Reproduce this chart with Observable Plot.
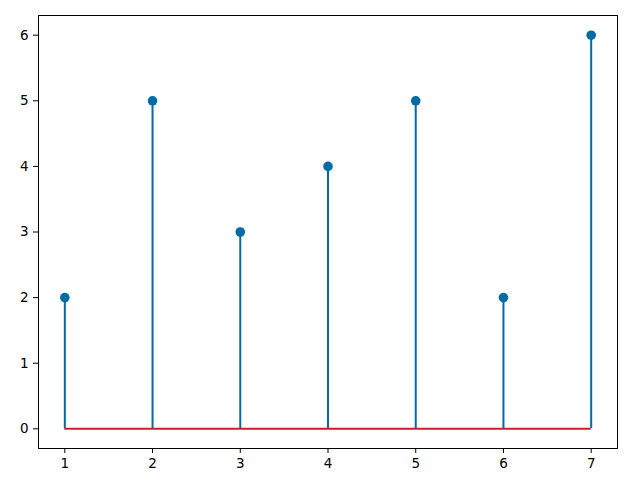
<!DOCTYPE html>
<html>
<head>
<meta charset="utf-8">
<script src="https://cdn.jsdelivr.net/npm/d3@7"></script>
<script src="https://cdn.jsdelivr.net/npm/@observablehq/plot@0.6"></script>
<style>
  html, body { margin: 0; padding: 0; background: #fff; }
  #chart svg { display: block; }
  #chart svg text { font-family: "DejaVu Sans", sans-serif !important; font-size: 13.5px !important; fill: #000; }
</style>
</head>
<body>
<div id="chart"></div>
<script>
const xs = [1, 2, 3, 4, 5, 6, 7];
const ys = [2, 5, 3, 4, 5, 2, 6];
const xTicks = [1, 2, 3, 4, 5, 6, 7];
const yTicks = [0, 1, 2, 3, 4, 5, 6];

const data = xs.map((x, i) => ({x, y: ys[i]}));
const stemColor = "#006BA4";
const baseColor = "#d6182d";

const chart = Plot.plot({
  width: 644,
  height: 482,
  marginLeft: 38,
  marginRight: 27,
  marginTop: 15,
  marginBottom: 34,
  style: {fontFamily: "DejaVu Sans", background: "#fff", color: "#000"},
  x: {domain: [0.7, 7.3], label: null},
  y: {domain: [-0.3, 6.3], label: null},
  marks: [
    Plot.axisX(xTicks, {tickSize: 5, tickPadding: 5, label: null, tickFormat: d3.format("d")}),
    Plot.axisY(yTicks, {tickSize: 5, tickPadding: 5, label: null, tickFormat: d3.format("d")}),
    Plot.ruleX(data, {x: "x", y1: 0, y2: "y", stroke: stemColor, strokeWidth: 2}),
    Plot.ruleY([0], {x1: xs[0], x2: xs[xs.length - 1], stroke: baseColor, strokeWidth: 2}),
    Plot.dot(data, {x: "x", y: "y", r: 4.8, fill: stemColor, stroke: "none"}),
    Plot.frame({stroke: "#000", strokeWidth: 1})
  ]
});
document.getElementById("chart").appendChild(chart);
</script>
</body>
</html>
